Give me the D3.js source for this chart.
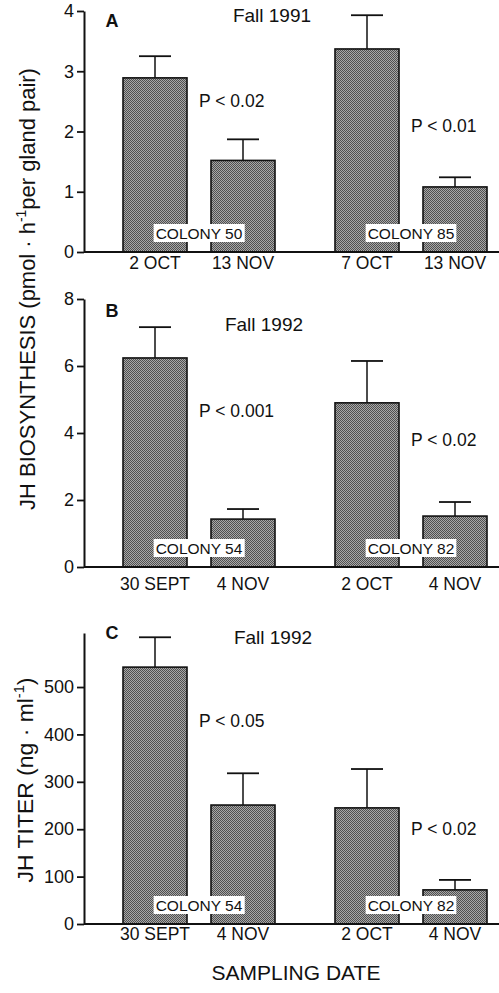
<!DOCTYPE html>
<html>
<head>
<meta charset="utf-8">
<script src="https://cdn.jsdelivr.net/npm/d3@7"></script>
<style>
  body { margin: 0; background: #fff; }
  svg { font-family: "Liberation Sans", Arial, Helvetica, sans-serif; }
</style>
</head>
<body>
<svg id="chart" width="499" height="993"></svg>
<script>
// chart values
let panelLetters = ["A", "B", "C"]
let seasons = ["Fall 1991", "Fall 1992", "Fall 1992"]
let colonies = [["COLONY 50", "COLONY 85"], ["COLONY 54", "COLONY 82"], ["COLONY 54", "COLONY 82"]]
let dates = [
    ["2 OCT", "13 NOV", "7 OCT", "13 NOV"],
    ["30 SEPT", "4 NOV", "2 OCT", "4 NOV"],
    ["30 SEPT", "4 NOV", "2 OCT", "4 NOV"]
]
let means = [
    [2.89, 1.52, 3.37, 1.08],
    [6.24, 1.43, 4.90, 1.52],
    [542, 251, 245, 72]
]
let errors = [
    [0.36, 0.35, 0.56, 0.16],
    [0.92, 0.30, 1.25, 0.42],
    [63, 67, 82, 21]
]
let pLabels = [["P < 0.02", "P < 0.01"], ["P < 0.001", "P < 0.02"], ["P < 0.05", "P < 0.02"]]
let yTicks = [[0, 1, 2, 3, 4], [0, 2, 4, 6, 8], [0, 100, 200, 300, 400, 500]]

// layout of each panel (pixels)
let layout = [
    { y0: 252, yTop: 11,  max: 4,   letterY: 27,  seasonX: 272, seasonY: 22,  dateDy: 17, pY: [107, 132] },
    { y0: 567, yTop: 299, max: 8,   letterY: 317, seasonX: 264, seasonY: 331, dateDy: 23, pY: [417, 446] },
    { y0: 924, yTop: 633, max: 614, letterY: 639, seasonX: 273, seasonY: 644, dateDy: 16, pY: [727, 835] }
]

let axisX = 84
let svg = d3.select("#chart")

// stippled grey fill for the bars
let pat = svg.append("defs").append("pattern")
    .attr("id", "stipple")
    .attr("width", 2).attr("height", 2)
    .attr("patternUnits", "userSpaceOnUse")
pat.append("rect").attr("width", 2).attr("height", 2).attr("fill", "#a8a8a8")
pat.append("rect").attr("x", 0).attr("y", 0).attr("width", 1).attr("height", 1).attr("fill", "#505050")
pat.append("rect").attr("x", 1).attr("y", 1).attr("width", 1).attr("height", 1).attr("fill", "#505050")

// groups (colonies) and the two dates inside each group
let groupX = d3.scaleBand().domain([0, 1]).range([93, 517])
let innerX = d3.scaleBand().domain([0, 1]).range([30, 182]).paddingInner(24 / 88)

panelLetters.forEach((letter, p) => {
    let L = layout[p]
    let Y = d3.scaleLinear().domain([0, L.max]).range([L.y0, L.yTop])
    let g = svg.append("g")

    // bars
    let bars = means[p].map((m, i) => ({
        value: m,
        err: errors[p][i],
        x: groupX(Math.floor(i / 2)) + innerX(i % 2),
        label: dates[p][i]
    }))
    let bw = innerX.bandwidth()

    g.selectAll("rect.bar")
     .data(bars)
     .enter()
     .append("rect")
     .attr("class", "bar")
     .attr("x", d => d.x)
     .attr("y", d => Y(d.value))
     .attr("width", bw)
     .attr("height", d => L.y0 - Y(d.value))
     .attr("fill", "url(#stipple)")
     .attr("stroke", "#111")
     .attr("stroke-width", 1.6)

    // error bars
    g.selectAll("line.err")
     .data(bars)
     .enter()
     .append("line")
     .attr("x1", d => d.x + bw / 2)
     .attr("x2", d => d.x + bw / 2)
     .attr("y1", d => Y(d.value))
     .attr("y2", d => Y(d.value + d.err))
     .attr("stroke", "#111")
     .attr("stroke-width", 1.5)
    g.selectAll("line.cap")
     .data(bars)
     .enter()
     .append("line")
     .attr("x1", d => d.x + bw / 2 - 16)
     .attr("x2", d => d.x + bw / 2 + 16)
     .attr("y1", d => Y(d.value + d.err))
     .attr("y2", d => Y(d.value + d.err))
     .attr("stroke", "#111")
     .attr("stroke-width", 1.8)

    // date labels
    g.selectAll("text.date")
     .data(bars)
     .enter()
     .append("text")
     .attr("x", d => d.x + bw / 2)
     .attr("y", L.y0 + L.dateDy)
     .attr("text-anchor", "middle")
     .attr("font-size", 17.5)
     .attr("fill", "#111")
     .text(d => d.label)

    // y axis
    let yAxis = d3.axisLeft(Y)
        .tickValues(yTicks[p])
        .tickFormat(d3.format("d"))
        .tickSize(7).tickPadding(3).tickSizeOuter(0)
    let ax = g.append("g")
        .attr("transform", "translate(" + axisX + ",0)")
        .call(yAxis)
    ax.select(".domain").attr("stroke", "#111").attr("stroke-width", 2)
    ax.selectAll(".tick line").attr("stroke", "#111").attr("stroke-width", 1.8)
    ax.selectAll(".tick text")
      .attr("font-size", 18)
      .attr("font-family", "Liberation Sans, Arial, sans-serif")
      .attr("fill", "#111")

    // baseline
    g.append("line")
     .attr("x1", axisX).attr("x2", 499)
     .attr("y1", L.y0).attr("y2", L.y0)
     .attr("stroke", "#111").attr("stroke-width", 2)

    // colony boxes
    colonies[p].forEach((c, k) => {
        let cx = groupX(k) + groupX.bandwidth() / 2
        let t = g.append("text")
            .attr("x", cx)
            .attr("y", L.y0 - 13)
            .attr("text-anchor", "middle")
            .attr("font-size", 15.5)
            .attr("fill", "#111")
            .text(c)
        let bb = t.node().getBBox()
        g.insert("rect", () => t.node())
         .attr("x", bb.x - 2)
         .attr("y", L.y0 - 28)
         .attr("width", bb.width + 4)
         .attr("height", 18)
         .attr("fill", "#fff")
    })

    // p values
    pLabels[p].forEach((s, k) => {
        let firstBar = bars[k * 2]
        g.append("text")
         .attr("x", firstBar.x + bw + 12)
         .attr("y", L.pY[k])
         .attr("font-size", 17.5)
         .attr("fill", "#111")
         .text(s)
    })

    // panel letter and season
    g.append("text")
     .attr("x", 112).attr("y", L.letterY)
     .attr("text-anchor", "middle")
     .attr("font-size", 18)
     .attr("font-weight", "bold")
     .attr("fill", "#111")
     .text(letter)
    g.append("text")
     .attr("x", L.seasonX).attr("y", L.seasonY)
     .attr("text-anchor", "middle")
     .attr("font-size", 19)
     .attr("fill", "#111")
     .text(seasons[p])
})

// y axis titles: rotated, squeezed along the reading direction to fit the span
function axisTitle(x, yMid, span, parts) {
    let t = svg.append("text")
        .attr("text-anchor", "middle")
        .attr("font-size", 22)
        .attr("fill", "#111")
    t.append("tspan").text(parts[0])
    t.append("tspan").attr("font-size", 14).attr("dy", -9).text("-1")
    t.append("tspan").attr("dy", 9).text(parts[1])
    let w = t.node().getBBox().width
    t.attr("transform", "translate(" + x + "," + yMid + ") rotate(-90) scale(" + (span / w) + ",1)")
}
axisTitle(35, 289, 442, ["JH BIOSYNTHESIS (pmol · h", "per gland pair)"])
axisTitle(33, 780, 205, ["JH TITER (ng · ml", ")"])

svg.append("text")
   .attr("x", 296).attr("y", 980)
   .attr("text-anchor", "middle")
   .attr("font-size", 21)
   .attr("fill", "#111")
   .text("SAMPLING DATE")
</script>
</body>
</html>
